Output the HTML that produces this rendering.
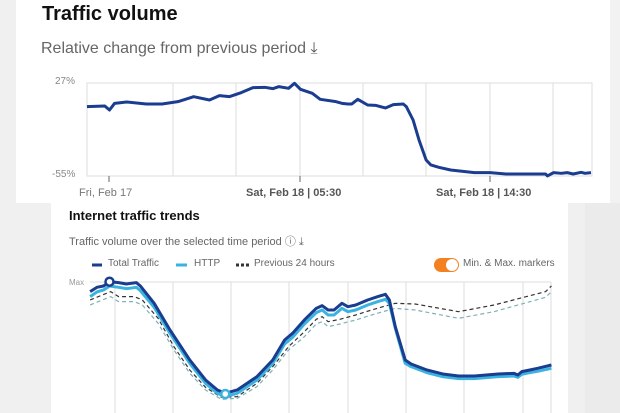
<!DOCTYPE html>
<html><head><meta charset="utf-8"><style>
body{margin:0;width:620px;height:413px;overflow:hidden;background:#f2f2f2;font-family:"Liberation Sans",sans-serif;position:relative}
.t{position:absolute;white-space:nowrap}
</style></head><body>
<div style="position:absolute;left:0;top:0;width:16px;height:203px;background:#f0f0f0"></div>
<div style="position:absolute;left:16px;top:0;width:594px;height:203px;background:#fff"></div>
<div style="position:absolute;left:0;top:203px;width:620px;height:210px;background:#f0f0f0"></div>
<div style="position:absolute;left:585px;top:203px;width:35px;height:210px;background:#ebebeb"></div>
<div style="position:absolute;left:51px;top:203px;width:517px;height:210px;background:#fff"></div>

<div class="t" style="left:42px;top:3px;font-size:20px;font-weight:bold;color:#111">Traffic volume</div>
<div class="t" style="left:41px;top:40px;font-size:16px;color:#666">Relative change from previous period <span style="color:#555">⤓</span></div>
<div class="t" style="left:55px;top:76px;font-size:10px;color:#888">27%</div>
<div class="t" style="left:52px;top:169px;font-size:10px;color:#888">-55%</div>
<div class="t" style="left:79px;top:187px;font-size:11px;color:#777">Fri, Feb 17</div>
<div class="t" style="left:246px;top:187px;font-size:11px;color:#555;font-weight:bold">Sat, Feb 18 | 05:30</div>
<div class="t" style="left:436px;top:187px;font-size:11px;color:#555;font-weight:bold">Sat, Feb 18 | 14:30</div>

<div class="t" style="left:69px;top:208px;font-size:13px;font-weight:bold;color:#111">Internet traffic trends</div>
<div class="t" style="left:69px;top:233px;font-size:11px;color:#666">Traffic volume over the selected time period ⓘ ⤓</div>
<div class="t" style="left:108px;top:258px;font-size:10px;color:#666">Total Traffic</div>
<div class="t" style="left:194px;top:258px;font-size:10px;color:#666">HTTP</div>
<div class="t" style="left:254px;top:258px;font-size:10px;color:#666">Previous 24 hours</div>
<div class="t" style="left:463px;top:258px;font-size:10px;color:#666">Min. &amp; Max. markers</div>
<div class="t" style="left:69px;top:278px;font-size:8px;color:#999">Max</div>
<div style="position:absolute;left:434px;top:258px;width:25px;height:14px;border-radius:7px;background:#f48120"></div>
<div style="position:absolute;left:446px;top:259px;width:12px;height:12px;border-radius:6px;background:#fff"></div>

<svg width="620" height="413" style="position:absolute;left:0;top:0">
<g stroke="#ddd" stroke-width="1" fill="none">
<rect x="87" y="83" width="505" height="93"/>
<path d="M173 83V176M236 83V176M300 83V176M363 83V176M426 83V176M490 83V176M553 83V176"/>
<path d="M109 176V182M300 176V182M490 176V182" stroke="#666"/>
<path d="M90 282H551M115 282V413M173 282V413M231 282V413M289 282V413M348 282V413M406 282V413M464 282V413M523 282V413M551 282V413"/>
</g>
<path d="M88 265h10M176 265h10M236 265h3M241 265h3M246 265h3" stroke-width="3"/>
<path d="M92 265h10" stroke="#1a3d8f" stroke-width="3"/>
<path d="M176 265h11" stroke="#3bb3e0" stroke-width="3"/>
<path d="M236 265h3M241 265h3M246 265h3" stroke="#333" stroke-width="3"/>
<g transform="scale(0.3953,0.3333)" fill="none" stroke-linejoin="round">
<polyline vector-effect="non-scaling-stroke" stroke="#1a3d8f" stroke-width="3" points="220,320 265,318 277,330 290,310 320,306 370,312 410,312 450,305 490,290 530,300 555,287 580,290 610,278 640,263 670,262 690,266 705,260 730,265 745,250 760,268 790,280 810,298 850,305 865,310 880,312 890,312 905,298 930,315 950,316 975,324 995,314 1020,312 1028,320 1045,360 1060,420 1078,480 1090,495 1110,502 1140,510 1200,518 1240,518 1280,522 1380,522 1385,528 1400,518 1420,520 1435,518 1450,522 1470,517 1480,520 1495,518"/>
</g>
<g transform="translate(0,200) scale(0.3953,0.3333)" fill="none" stroke-linejoin="round">
<polyline vector-effect="non-scaling-stroke" stroke="#7fb0b8" stroke-width="1.2" stroke-dasharray="4,3" points="228,315 280,290 300,305 340,305 360,315 400,370 440,450 480,520 520,570 560,598 600,595 650,560 690,510 730,450 770,410 800,372 815,365 830,380 860,372 900,360 940,345 975,333 1000,325 1050,330 1160,355 1250,335 1380,292 1395,275"/>
<polyline vector-effect="non-scaling-stroke" stroke="#333" stroke-width="1.2" stroke-dasharray="4,3" points="228,300 280,275 300,290 340,290 360,300 400,355 440,440 480,510 520,562 560,592 600,590 650,550 690,500 730,440 770,395 800,358 815,350 830,365 860,358 900,345 940,330 975,318 1000,310 1050,312 1160,335 1250,315 1380,275 1395,258"/>
<polyline vector-effect="non-scaling-stroke" stroke="#3bb3e0" stroke-width="3" points="228,290 245,276 262,270 277,258 300,262 320,266 345,262 355,272 390,322 430,400 480,490 520,550 550,580 570,590 600,580 650,540 690,490 720,432 740,412 770,372 800,338 815,330 830,345 845,345 865,325 880,335 900,330 930,315 955,305 975,298 985,310 1000,385 1025,490 1040,500 1080,518 1120,530 1160,536 1200,536 1230,533 1260,530 1300,528 1310,532 1320,523 1340,518 1360,514 1395,505"/>
<polyline vector-effect="non-scaling-stroke" stroke="#1a3d8f" stroke-width="3" points="228,275 245,262 262,258 277,245 300,248 320,252 345,248 355,258 390,310 430,390 480,480 520,540 550,570 570,580 600,570 650,530 690,480 720,420 740,400 770,360 800,325 815,317 830,330 845,330 865,310 880,320 900,315 930,300 955,290 975,283 985,300 1000,380 1025,480 1040,492 1080,510 1120,522 1160,528 1200,528 1230,525 1260,522 1300,520 1310,525 1320,515 1340,510 1360,505 1395,495"/>
</g>
<circle cx="109.5" cy="281.7" r="4" fill="#fff" stroke="#1a3d8f" stroke-width="2.5"/>
<circle cx="225.3" cy="394" r="4" fill="#fff" stroke="#3bb3e0" stroke-width="2.5"/>
</svg>
</body></html>
